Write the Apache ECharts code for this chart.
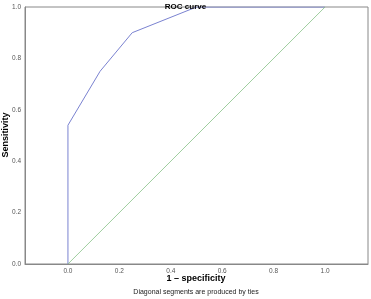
<!DOCTYPE html>
<html>
<head>
<meta charset="utf-8">
<script src="https://cdn.jsdelivr.net/npm/echarts@6/dist/echarts.min.js"></script>
<style>
  html, body { margin: 0; padding: 0; background: #fff; }
  #chart { width: 371px; height: 299px; }
</style>
</head>
<body>
<div id="chart"></div>
<script>
// ROC points (1 - specificity, sensitivity)
const rocX = [0, 0, 0.125, 0.25, 0.5, 1]
const rocY = [0, 0.54, 0.75, 0.9, 1, 1]
const diagX = [0, 1]
const diagY = [0, 1]
const tickValues = [0, 0.2, 0.4, 0.6, 0.8, 1.0]

const chart = echarts.init(document.getElementById('chart'))

function pairs(xs, ys) {
  return xs.map((x, i) => [x, ys[i]])
}

const font = 'Liberation Sans, Arial, sans-serif'

chart.setOption({
  animation: false,
  title: {
    text: 'ROC curve',
    left: 'center',
    top: -2,
    textStyle: { fontSize: 8, fontWeight: 'bold', color: '#000', fontFamily: font }
  },
  graphic: [
    {
      type: 'text',
      x: 196, y: 279,
      style: { text: '1 \u2013 specificity', fontSize: 9, fontWeight: 'bold', fill: '#000', fontFamily: font, align: 'center', verticalAlign: 'middle' }
    },
    {
      type: 'text',
      x: 6, y: 135,
      rotation: Math.PI / 2,
      style: { text: 'Sensitivity', fontSize: 9, fontWeight: 'bold', fill: '#000', fontFamily: font, align: 'center', verticalAlign: 'middle' }
    },
    {
      type: 'text',
      x: 196, y: 292,
      style: { text: 'Diagonal segments are produced by ties', fontSize: 7, fill: '#222', fontFamily: font, align: 'center', verticalAlign: 'middle' }
    }
  ],
  grid: {
    left: 25, right: 3, top: 7, bottom: 35,
    outerBoundsMode: 'none',
    containLabel: false,
    show: true, borderColor: '#888', borderWidth: 1
  },
  xAxis: {
    type: 'value',
    min: -0.167,
    max: 1.167,
    axisLine: { show: true, onZero: false, lineStyle: { color: '#888' } },
    axisTick: { show: false },
    axisLabel: {
      customValues: tickValues, fontSize: 6.5, color: '#555', margin: 4, fontFamily: font,
      formatter: v => v.toFixed(1)
    },
    splitLine: { show: false }
  },
  yAxis: {
    type: 'value',
    min: 0,
    max: 1,
    interval: 0.2,
    axisLine: { show: true, onZero: false, lineStyle: { color: '#888' } },
    axisTick: { show: false },
    axisLabel: {
      fontSize: 6.5, color: '#555', margin: 4, fontFamily: font,
      formatter: v => v.toFixed(1)
    },
    splitLine: { show: false }
  },
  series: [
    {
      type: 'line',
      data: pairs(rocX, rocY),
      showSymbol: false,
      lineStyle: { color: '#7a82d0', width: 1 },
      z: 3
    },
    {
      type: 'line',
      data: pairs(diagX, diagY),
      showSymbol: false,
      lineStyle: { color: '#86c286', width: 0.8 }
    }
  ]
})
</script>
</body>
</html>
